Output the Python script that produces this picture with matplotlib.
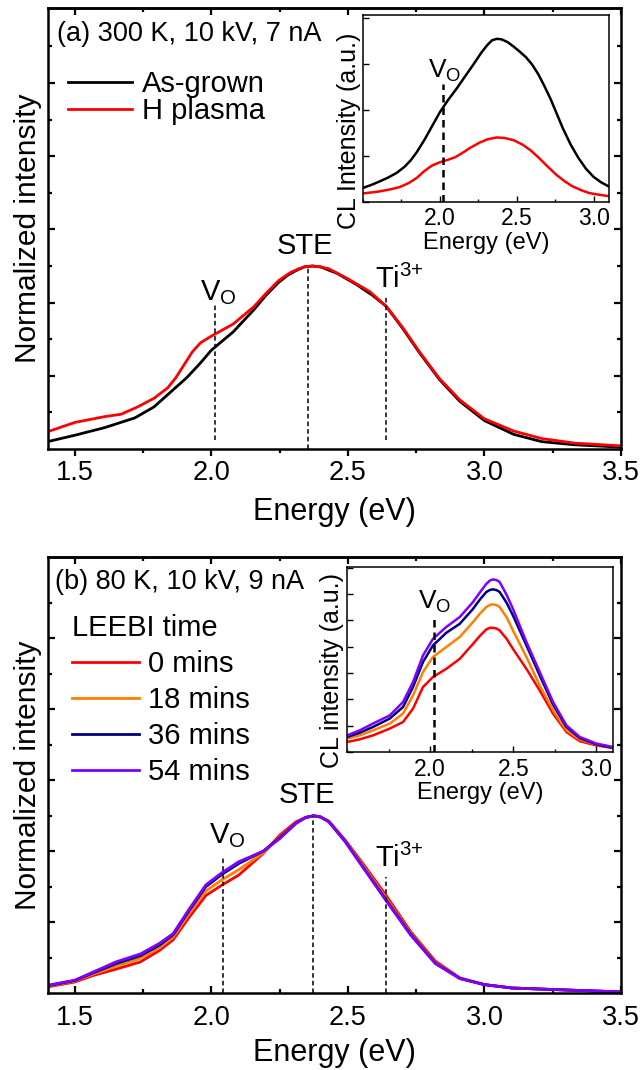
import matplotlib
matplotlib.use("Agg")
import matplotlib.pyplot as plt
from matplotlib.ticker import MultipleLocator, FixedLocator

plt.rcParams['font.family'] = ['Liberation Sans', 'DejaVu Sans']
plt.rcParams['mathtext.fontset'] = 'custom'
plt.rcParams['mathtext.rm'] = 'Liberation Sans'
plt.rcParams['mathtext.it'] = 'Liberation Sans:italic'

# ---- panel (a): normalized spectra, 300 K ----
ea_grown = [1.40, 1.50, 1.61, 1.72, 1.79, 1.85, 1.91, 1.96, 2.00, 2.04, 2.08, 2.155, 2.20, 2.246,
            2.28, 2.31, 2.34, 2.37, 2.40, 2.46, 2.53, 2.59, 2.64, 2.70, 2.76, 2.835, 2.91, 3.00,
            3.107, 3.21, 3.33, 3.50]
ia_grown = [0.04, 0.075, 0.117, 0.17, 0.23, 0.31, 0.39, 0.47, 0.54, 0.59, 0.64, 0.76, 0.84, 0.91,
            0.95, 0.975, 0.995, 1.0, 0.995, 0.96, 0.90, 0.84, 0.78, 0.66, 0.53, 0.38, 0.26, 0.155,
            0.08, 0.04, 0.023, 0.01]
ea_hpl = [1.40, 1.50, 1.61, 1.67, 1.73, 1.79, 1.84, 1.87, 1.90, 1.93, 1.96, 2.00, 2.04, 2.08,
          2.155, 2.20, 2.246, 2.29, 2.32, 2.345, 2.37, 2.40, 2.43, 2.50, 2.58, 2.64, 2.70, 2.76,
          2.835, 2.91, 3.00, 3.107, 3.21, 3.33, 3.50]
ia_hpl = [0.094, 0.145, 0.177, 0.19, 0.23, 0.277, 0.334, 0.39, 0.46, 0.53, 0.58, 0.617, 0.65,
          0.683, 0.777, 0.85, 0.92, 0.965, 0.985, 0.997, 1.0, 0.995, 0.985, 0.93, 0.86, 0.78,
          0.665, 0.535, 0.385, 0.268, 0.165, 0.098, 0.057, 0.032, 0.017]

# inset (a): CL intensity, a.u.
ei_grown = [1.50, 1.55, 1.60, 1.66, 1.72, 1.77, 1.81, 1.85, 1.90, 1.95, 2.00, 2.05, 2.11, 2.17,
            2.22, 2.27, 2.31, 2.34, 2.37, 2.40, 2.44, 2.48, 2.52, 2.56, 2.60, 2.64, 2.68, 2.72,
            2.76, 2.80, 2.85, 2.90, 2.95, 3.00, 3.05, 3.10]
ci_grown = [0.30, 0.36, 0.43, 0.52, 0.63, 0.76, 0.90, 1.08, 1.35, 1.65, 1.95, 2.20, 2.47, 2.76,
            3.00, 3.25, 3.42, 3.52, 3.55, 3.54, 3.48, 3.38, 3.27, 3.15, 2.99, 2.78, 2.52, 2.24,
            1.92, 1.60, 1.25, 0.96, 0.72, 0.54, 0.42, 0.33]
ei_hpl = [1.50, 1.60, 1.68, 1.74, 1.80, 1.85, 1.90, 1.95, 2.00, 2.05, 2.10, 2.15, 2.20, 2.26,
          2.31, 2.37, 2.42, 2.48, 2.54, 2.59, 2.64, 2.70, 2.76, 2.81, 2.86, 2.92, 2.97, 3.02,
          3.10]
ci_hpl = [0.18, 0.22, 0.27, 0.32, 0.41, 0.52, 0.67, 0.79, 0.86, 0.91, 0.97, 1.07, 1.18, 1.29,
          1.36, 1.40, 1.39, 1.34, 1.24, 1.12, 0.97, 0.77, 0.58, 0.45, 0.34, 0.25, 0.19, 0.16,
          0.12]

# ---- panel (b): normalized spectra, 80 K, LEEBI ----
eb = [1.40, 1.50, 1.57, 1.65, 1.74, 1.81, 1.86, 1.92, 1.98, 2.04, 2.10, 2.19, 2.25, 2.31,
      2.345, 2.375, 2.40, 2.43, 2.49, 2.55, 2.64, 2.73, 2.82, 2.91, 3.00, 3.10, 3.33, 3.50]
ib_0 = [0.034, 0.062, 0.10, 0.134, 0.175, 0.24, 0.30, 0.43, 0.55, 0.61, 0.665, 0.787, 0.89,
        0.966, 0.99, 0.998, 0.992, 0.97, 0.863, 0.74, 0.55, 0.345, 0.18, 0.085, 0.047, 0.028,
        0.015, 0.006]
ib_18 = [0.038, 0.067, 0.108, 0.15, 0.195, 0.255, 0.315, 0.45, 0.575, 0.64, 0.695, 0.79, 0.88,
         0.96, 0.99, 1.0, 0.993, 0.968, 0.858, 0.73, 0.535, 0.335, 0.172, 0.083, 0.047, 0.028,
         0.015, 0.006]
ib_36 = [0.041, 0.07, 0.115, 0.165, 0.21, 0.27, 0.328, 0.468, 0.60, 0.67, 0.73, 0.80, 0.875,
         0.958, 0.99, 1.0, 0.993, 0.966, 0.855, 0.722, 0.525, 0.33, 0.168, 0.082, 0.047, 0.028,
         0.015, 0.006]
ib_54 = [0.043, 0.072, 0.12, 0.175, 0.22, 0.28, 0.335, 0.476, 0.61, 0.68, 0.74, 0.80, 0.87,
         0.957, 0.99, 1.0, 0.993, 0.966, 0.853, 0.72, 0.52, 0.326, 0.166, 0.081, 0.047, 0.028,
         0.015, 0.006]

# inset (b)
ebi = [1.50, 1.576, 1.656, 1.757, 1.837, 1.897, 1.957, 2.017, 2.097, 2.178, 2.258, 2.30, 2.338,
       2.36, 2.378, 2.40, 2.418, 2.46, 2.498, 2.579, 2.659, 2.739, 2.82, 2.90, 3.00, 3.10]
cb_0 = [0.38, 0.48, 0.63, 0.89, 1.14, 1.65, 2.47, 2.85, 3.16, 3.54, 4.11, 4.42, 4.66, 4.72,
        4.72, 4.69, 4.62, 4.30, 3.92, 3.16, 2.34, 1.46, 0.76, 0.41, 0.25, 0.15]
cb_18 = [0.51, 0.63, 0.82, 1.08, 1.46, 2.15, 3.04, 3.61, 3.99, 4.37, 4.94, 5.26, 5.51, 5.59,
         5.61, 5.58, 5.51, 5.12, 4.62, 3.61, 2.53, 1.58, 0.82, 0.47, 0.28, 0.16]
cb_36 = [0.57, 0.73, 0.95, 1.27, 1.71, 2.47, 3.42, 4.05, 4.53, 4.87, 5.44, 5.80, 6.08, 6.16,
         6.18, 6.15, 6.08, 5.67, 5.19, 4.05, 2.91, 1.80, 0.95, 0.53, 0.29, 0.16]
cb_54 = [0.63, 0.82, 1.08, 1.39, 1.90, 2.66, 3.67, 4.30, 4.75, 5.13, 5.70, 6.07, 6.39, 6.52,
         6.56, 6.53, 6.46, 5.97, 5.44, 4.18, 3.04, 1.90, 1.01, 0.57, 0.32, 0.19]

times = ["0 mins", "18 mins", "36 mins", "54 mins"]
tcolors = ["#ff0000", "#ff7f00", "#000080", "#8000ff"]

fig = plt.figure(figsize=(6.43, 10.70), dpi=100)
axa = fig.add_axes([0.0739, 0.5804, 0.8919, 0.4121])
axb = fig.add_axes([0.0739, 0.0720, 0.8919, 0.4075])
ina = fig.add_axes([0.5645, 0.8115, 0.3826, 0.1745])
inb = fig.add_axes([0.5397, 0.2972, 0.4137, 0.1729])


def style_main(ax, xdir, ymax, pad, lpad):
    ax.set_xlim(1.4, 3.5)
    ax.set_ylim(0, ymax)
    ax.xaxis.set_major_locator(MultipleLocator(0.5))
    ax.xaxis.set_minor_locator(MultipleLocator(0.25))
    ax.yaxis.set_major_locator(FixedLocator([0.4, 0.8, 1.2, 1.6, 2.0]))
    ax.yaxis.set_minor_locator(FixedLocator([0.2, 0.6, 1.0, 1.4, 1.8, 2.2]))
    ax.tick_params(which='both', left=True, right=True, top=False, labelleft=False, width=1.6)
    ax.tick_params(axis='x', which='both', direction=xdir, labelsize=19.5, pad=pad)
    ax.tick_params(axis='y', which='both', direction='in')
    ax.tick_params(which='major', length=5)
    ax.tick_params(which='minor', length=3)
    sec = ax.secondary_xaxis('top')
    sec.xaxis.set_major_locator(MultipleLocator(0.5))
    sec.xaxis.set_minor_locator(MultipleLocator(0.25))
    sec.tick_params(which='both', direction='in', labeltop=False, width=1.6)
    sec.tick_params(which='major', length=5)
    sec.tick_params(which='minor', length=3)
    sec.spines['top'].set_linewidth(1.8)
    for s in ax.spines.values():
        s.set_linewidth(1.8)
    ax.set_xlabel("Energy (eV)", fontsize=22, labelpad=lpad)
    ax.set_ylabel("Normalized intensity", fontsize=21.5)
    ax.yaxis.set_label_coords(-0.009, 0.5)


def style_inset(ax, ymax, ystep, ylab, ypos):
    ax.set_xlim(1.5, 3.1)
    ax.set_ylim(0, ymax)
    ax.xaxis.set_major_locator(MultipleLocator(0.5))
    ax.xaxis.set_minor_locator(MultipleLocator(0.25))
    ax.yaxis.set_major_locator(MultipleLocator(ystep))
    ax.tick_params(which='both', direction='in', labelleft=False, labelsize=16.5, pad=4,
                   width=1.0)
    ax.tick_params(which='major', length=4)
    ax.tick_params(which='minor', length=2.5)
    for s in ax.spines.values():
        s.set_linewidth(1.1)
    ax.set_xticks([2.0, 2.5, 3.0])
    ax.set_xticklabels(["2.0", "2.5", "3.0"])
    ax.set_xlabel("Energy (eV)", fontsize=17, labelpad=1)
    ax.set_ylabel(ylab, fontsize=18)
    ax.yaxis.set_label_coords(-0.01, ypos)


dash = (0, (3, 2))
ti_label = r"Ti$^{3{+}}$"
vo_label = r"V$_\mathregular{O}$"

# panel (a)
axa.plot(ea_grown, ia_grown, color='black', lw=2, label="As-grown")
axa.plot(ea_hpl, ia_hpl, color='#ff0000', lw=2, label="H plasma")
axa.plot([2.012, 2.012], [0.05, 0.79], color='black', lw=1.1, ls=dash)
axa.plot([2.352, 2.352], [0.0, 1.0], color='black', lw=1.1, ls=dash)
axa.plot([2.639, 2.639], [0.05, 0.83], color='black', lw=1.1, ls=dash)
axa.text(1.957, 0.815, vo_label, fontsize=21, ha='left', va='baseline')
axa.text(2.343, 1.063, "STE", fontsize=21, ha='center', va='baseline')
axa.text(2.60, 0.88, ti_label, fontsize=21, ha='left', va='baseline')
axa.text(0.017, 0.941, "(a) 300 K, 10 kV, 7 nA", transform=axa.transAxes, fontsize=19.5,
         ha='left', va='center')
axa.legend(loc='upper left', bbox_to_anchor=(0.0, 0.905), frameon=False, fontsize=21,
           handlelength=2.2, handletextpad=0.35, labelspacing=-0.05, borderaxespad=0.3)
style_main(axa, 'out', 2.41, 3, 8)

# inset (a)
ina.plot(ei_grown, ci_grown, color='black', lw=1.8)
ina.plot(ei_hpl, ci_hpl, color='#ff0000', lw=1.8)
ina.plot([2.02, 2.02], [0, 2.57], color='black', lw=1.8, ls=dash)
ina.text(1.921, 2.71, vo_label, fontsize=19, ha='left', va='baseline')
style_inset(ina, 4.07, 1, "CL Intensity (a.u.)", 0.38)

# panel (b)
for ys, c, lab in zip([ib_0, ib_18, ib_36, ib_54], tcolors, times):
    axb.plot(eb, ys, color=c, lw=2, label=lab)
axb.plot([2.042, 2.042], [0.0, 0.77], color='black', lw=1.1, ls=dash)
axb.plot([2.372, 2.372], [0.0, 1.0], color='black', lw=1.1, ls=dash)
axb.plot([2.64, 2.64], [0.0, 0.655], color='black', lw=1.1, ls=dash)
axb.text(1.99, 0.844, vo_label, fontsize=21, ha='left', va='baseline')
axb.text(2.35, 1.07, "STE", fontsize=21, ha='center', va='baseline')
axb.text(2.60, 0.712, ti_label, fontsize=21, ha='left', va='baseline')
axb.text(0.013, 0.943, "(b) 80 K, 10 kV, 9 nA", transform=axb.transAxes, fontsize=19.5,
         ha='left', va='center')
axb.legend(loc='upper left', bbox_to_anchor=(0.007, 0.915), frameon=False, fontsize=21,
           title="LEEBI time", title_fontsize=21, alignment='left',
           handlelength=2.3, handletextpad=0.3, labelspacing=0.27, borderaxespad=0.3)
style_main(axb, 'in', 2.46, 9, 5)

# inset (b)
for ys, c in zip([cb_0, cb_18, cb_36, cb_54], tcolors):
    inb.plot(ebi, ys, color=c, lw=1.8)
inb.plot([2.023, 2.023], [0, 5.13], color='black', lw=1.8, ls=dash)
inb.text(1.927, 5.44, vo_label, fontsize=19, ha='left', va='baseline')
style_inset(inb, 7.03, 1, "CL intensity (a.u.)", 0.443)

fig.savefig("out.png", dpi=100)
